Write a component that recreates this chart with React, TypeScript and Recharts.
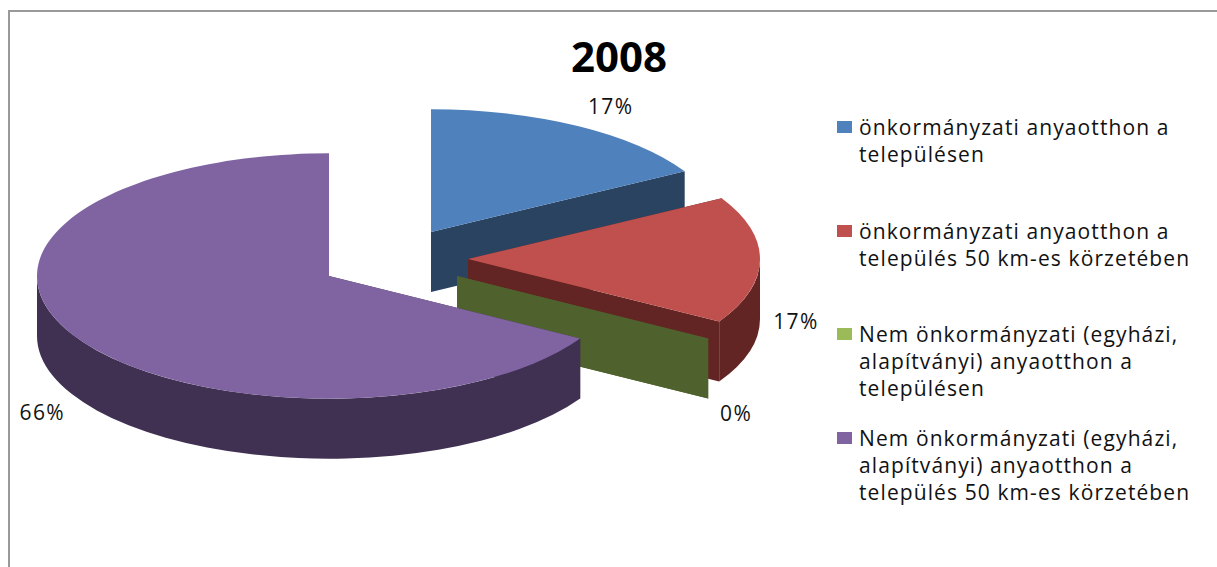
import { PieChart, Pie, Legend } from 'recharts'

const categories = [
  'önkormányzati anyaotthon a\ntelepülésen',
  'önkormányzati anyaotthon a\ntelepülés 50 km-es körzetében',
  'Nem önkormányzati (egyházi,\nalapítványi) anyaotthon a\ntelepülésen',
  'Nem önkormányzati (egyházi,\nalapítványi) anyaotthon a\ntelepülés 50 km-es körzetében',
]
const shares = [16.75, 16.75, 0, 66.45]
const topColors = ['#4F81BD', '#C0504D', '#9BBB59', '#8064A2']
const sideColors = ['#2A4361', '#632523', '#4F612C', '#403152']

// Exploded slices: shift of each slice from the common pie centre
const sliceShift = [[32, -27], [69, 0], [58, 17], [-70, 17]]
const labelShift = [[33, -20], [36, 61], [28, 74], [-33, 75]]

const TILT = 0.42
const DEPTH = 60
const FONT = '"Open Sans", sans-serif'

const tableData = categories.map((name, i) => ({ name, value: shares[i], fill: topColors[i] }))

const RAD = Math.PI / 180

function rimPoint(cx: number, cy: number, r: number, deg: number) {
  return [cx + r * Math.cos(deg * RAD), cy - r * TILT * Math.sin(deg * RAD)]
}

function arcPath(cx: number, cy: number, r: number, from: number, to: number, sweep = 1) {
  const [x, y] = rimPoint(cx, cy, r, to)
  const large = Math.abs(from - to) > 180 ? 1 : 0
  return `A${r},${r * TILT} 0 ${large} ${sweep} ${x},${y}`
}

function Slice3D(props: any) {
  const { cx, cy, outerRadius: r, startAngle, endAngle, index } = props
  const [sx, sy] = sliceShift[index]
  const x0 = cx + sx
  const y0 = cy + sy
  const side = sideColors[index]
  const [ax, ay] = rimPoint(x0, y0, r, startAngle)
  const [bx, by] = rimPoint(x0, y0, r, endAngle)

  // the front of the rim is the lower half of the ellipse
  const rims = []
  for (const [lo, hi] of [[-180, 0], [-540, -360]]) {
    const from = Math.min(startAngle, hi)
    const to = Math.max(endAngle, lo)
    if (from > to) {
      const [p, q] = rimPoint(x0, y0, r, from)
      const [u, v] = rimPoint(x0, y0 + DEPTH, r, to)
      rims.push(`M${p},${q} ${arcPath(x0, y0, r, from, to)} L${u},${v} ${arcPath(x0, y0 + DEPTH, r, to, from, 0)} Z`)
    }
  }

  return (
    <g>
      <path d={`M${x0},${y0} L${ax},${ay} L${ax},${ay + DEPTH} L${x0},${y0 + DEPTH} Z`} fill={side} />
      <path d={`M${x0},${y0} L${bx},${by} L${bx},${by + DEPTH} L${x0},${y0 + DEPTH} Z`} fill={side} />
      {rims.map((d) => <path key={d} d={d} fill={side} />)}
      {startAngle !== endAngle && (
        <path d={`M${x0},${y0} L${ax},${ay} ${arcPath(x0, y0, r, startAngle, endAngle)} Z`} fill={topColors[index]} />
      )}
    </g>
  )
}

function SliceLabel(props: any) {
  const { cx, cy, outerRadius: r, midAngle, percent, index } = props
  const [sx, sy] = sliceShift[index]
  const [lx, ly] = labelShift[index]
  const [x, y] = rimPoint(cx + sx, cy + sy, r, midAngle)
  return (
    <text x={x + lx} y={y + ly} textAnchor="middle" dominantBaseline="central" fontFamily={FONT} fontSize={21} letterSpacing={1.4} fill="#111">
      {`${Math.round(percent * 100)}%`}
    </text>
  )
}

function LegendBlock({ payload }: any) {
  return (
    <div style={{ fontFamily: FONT, fontSize: 21, lineHeight: '27px', color: '#111', letterSpacing: 1.1 }}>
      {(payload || []).map((item: any) => (
        <div key={item.value} style={{ position: 'relative', paddingLeft: 22, height: 103.5, whiteSpace: 'pre-line' }}>
          <span style={{ position: 'absolute', left: 0, top: 7, width: 15, height: 12, background: item.color }} />
          {item.value}
        </div>
      ))}
    </div>
  )
}

export default function App() {
  return (
    <div style={{ position: 'absolute', left: 0, top: 0, width: 1217, height: 567, background: '#fff', overflow: 'hidden' }}>
      <div style={{ position: 'absolute', left: 8, top: 10, width: 1209, height: 557, borderTop: '2px solid #999', borderLeft: '2px solid #999' }} />
      <PieChart width={1217} height={567} margin={{ top: 0, right: 0, bottom: 0, left: 0 }} style={{ position: 'absolute', left: 0, top: 0 }}>
        <text x={619} y={55} textAnchor="middle" dominantBaseline="central" fontFamily={FONT} fontWeight={700} fontSize={42} fill="#000">
          2008
        </text>
        <Pie
          data={tableData}
          dataKey="value"
          nameKey="name"
          cx={399}
          cy={259}
          outerRadius={292}
          startAngle={90}
          endAngle={-270}
          stroke="none"
          label={SliceLabel}
          labelLine={false}
          shape={Slice3D}
          isAnimationActive={false}
        />
        <Legend
          layout="vertical"
          itemSorter={null}
          content={<LegendBlock />}
          wrapperStyle={{ position: 'absolute', left: 837, top: 114, width: 375 }}
        />
      </PieChart>
    </div>
  )
}
